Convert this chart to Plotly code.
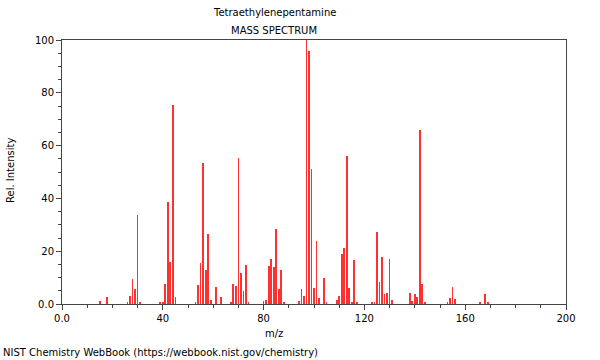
import plotly.graph_objects as go

mz = [15, 18, 26, 27, 28, 29, 30, 31, 39, 40, 41, 42, 43, 44, 45,
      53, 54, 55, 56, 57, 58, 59, 61, 63, 67, 68, 69, 70, 71, 72, 73, 74,
      80, 81, 82, 83, 84, 85, 86, 87, 88, 94, 95, 96, 97, 98, 99, 100, 101, 102,
      104, 105, 109, 110, 111, 112, 113, 114, 115, 116, 117, 123, 124, 125, 126,
      127, 128, 129, 130, 131, 138, 139, 140, 141, 142, 143, 144, 153, 154, 155,
      156, 166, 168, 169]
intensity = [1.0, 2.8, 0.5, 3.0, 9.5, 5.8, 33.6, 0.7, 0.7, 0.7, 7.7, 38.5, 15.9, 75.3, 2.8,
             0.5, 7.2, 15.4, 53.3, 12.9, 26.6, 1.5, 6.6, 2.7, 0.5, 7.4, 7.0, 55.2, 11.6, 4.8, 14.8, 0.7,
             1.0, 1.6, 14.4, 17.2, 14.0, 28.4, 5.7, 12.8, 0.5, 1.2, 5.7, 3.0, 100, 95.7, 51.0, 6.2, 23.9, 2.4,
             9.8, 0.5, 1.5, 3.2, 19.1, 21.2, 56.0, 6.2, 0.8, 16.5, 0.8, 0.7, 0.7, 27.4, 8.3,
             17.8, 3.9, 4.1, 17.2, 1.6, 4.3, 1.2, 3.7, 2.5, 65.8, 7.4, 0.5, 0.7, 2.2, 6.4,
             1.9, 0.4, 3.8, 0.6]

x_ticks = [0, 40, 80, 120, 160, 200]
x_labels = ["0.0", "40", "80", "120", "160", "200"]
y_ticks = [0, 20, 40, 60, 80, 100]
y_labels = ["0.0", "20", "40", "60", "80", "100"]

FONT = "DejaVu Sans"

L, R, T, B = 62, 566, 40, 304  # plot area in page pixels
W, H = 600, 360

fig = go.Figure(go.Bar(x=mz, y=intensity, width=0.32,
                       marker=dict(color="#ff3030", line=dict(width=0))))

fig.update_layout(
    width=W, height=H,
    margin=dict(l=L, r=W - R, t=T, b=H - B),
    paper_bgcolor="white", plot_bgcolor="white",
    showlegend=False,
    font=dict(family=FONT, size=10, color="black"),
    bargap=0,
)
axcol = "#444"
fig.update_xaxes(range=[0, 200], tickvals=x_ticks, ticktext=x_labels,
                 ticks="outside", ticklen=5, tickwidth=1, tickcolor=axcol,
                 showline=True, linecolor=axcol, linewidth=1, mirror=True,
                 showgrid=False, zeroline=False,
                 minor=dict(dtick=10, tick0=0, ticks="outside", ticklen=3, tickcolor=axcol, showgrid=False),
                 tickfont=dict(family=FONT, size=10))
fig.update_yaxes(range=[0, 100], tickvals=y_ticks, ticktext=y_labels,
                 ticks="outside", ticklen=5, tickwidth=1, tickcolor=axcol,
                 showline=True, linecolor=axcol, linewidth=1, mirror=True,
                 showgrid=False, zeroline=False,
                 minor=dict(dtick=5, tick0=0, ticks="outside", ticklen=3, tickcolor=axcol, showgrid=False),
                 tickfont=dict(family=FONT, size=10))


def px(xp):
    return (xp - L) / (R - L)


def py(yp):
    return (B - yp) / (B - T)


def ann(text, x, y, xanchor="center", angle=0):
    fig.add_annotation(text=text, xref="paper", yref="paper", x=px(x), y=py(y),
                       showarrow=False, xanchor=xanchor, yanchor="middle", textangle=angle,
                       font=dict(family=FONT, size=10, color="black"))


ann("Tetraethylenepentamine", 274, 13)
ann("MASS SPECTRUM", 274, 30)
ann("m/z", 274, 333)
ann("Rel. Intensity", 10, 171, angle=-90)
ann("NIST Chemistry WebBook (https://webbook.nist.gov/chemistry)", 1, 352, xanchor="left")

fig.write_html("out.html", config={"displayModeBar": False},
               post_script="document.body.style.margin='0';document.body.style.padding='0';")
